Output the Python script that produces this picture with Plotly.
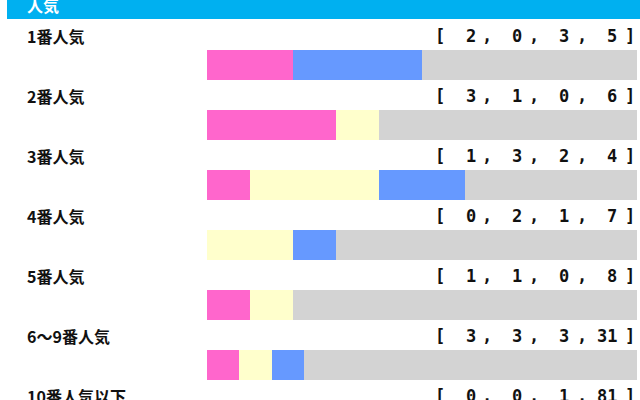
import plotly.graph_objects as go

# popularity groups and finishing counts [1st, 2nd, 3rd, other]
labels = ["1番人気", "2番人気", "3番人気", "4番人気", "5番人気", "6〜9番人気", "10番人気以下"]
first = [2, 3, 1, 0, 1, 3, 0]
second = [0, 1, 3, 2, 1, 3, 0]
third = [3, 0, 2, 1, 0, 3, 1]
other = [5, 6, 4, 7, 8, 31, 81]

header = "人気"
series_names = ["1着", "2着", "3着", "着外"]
colors = ["#ff66cc", "#ffffcc", "#6699ff", "#d3d3d3"]

W, H = 640, 400
ROW_H = 60
BAR_C = 65      # pixel centre of first bar
LABEL_DY = -29  # label line sits above the bar


def px_x(p):
    return p / W


def px_y(p):
    return 1 - p / H


rows = list(range(len(labels)))
fig = go.Figure()
for name, vals, col in zip(series_names, [first, second, third, other], colors):
    fig.add_trace(
        go.Bar(
            y=rows,
            x=vals,
            name=name,
            orientation="h",
            width=0.5,
            marker=dict(color=col, line=dict(width=0)),
            hoverinfo="skip",
        )
    )

font_lbl = dict(family="Noto Sans CJK JP", size=16, color="#111111")
font_num = dict(family="DejaVu Sans Mono, monospace", size=17, color="#111111")

annotations = []
num_right = [478, 524, 571, 619]
comma_x = [487, 534, 582]
for i, lab in enumerate(labels):
    yy = i + LABEL_DY / ROW_H
    annotations.append(dict(x=px_x(25), y=yy, xref="paper", yref="y", text=f"<b>{lab}</b>",
                            xanchor="left", yanchor="middle", showarrow=False, font=font_lbl))
    vals = [first[i], second[i], third[i], other[i]]
    annotations.append(dict(x=px_x(440), y=yy, xref="paper", yref="y", text="<b>[</b>",
                            xanchor="center", yanchor="middle", showarrow=False, font=font_num))
    annotations.append(dict(x=px_x(630), y=yy, xref="paper", yref="y", text="<b>]</b>",
                            xanchor="center", yanchor="middle", showarrow=False, font=font_num))
    for v, xr in zip(vals, num_right):
        annotations.append(dict(x=px_x(xr), y=yy, xref="paper", yref="y", text=f"<b>{v}</b>",
                                xanchor="right", yanchor="middle", showarrow=False, font=font_num))
    for xc in comma_x:
        annotations.append(dict(x=px_x(xc), y=yy, xref="paper", yref="y", text="<b>,</b>",
                                xanchor="center", yanchor="middle", showarrow=False, font=font_num))

annotations.append(dict(x=px_x(25), y=px_y(5), xref="paper", yref="paper", text=f"<b>{header}</b>",
                        xanchor="left", yanchor="middle", showarrow=False,
                        font=dict(family="Noto Sans CJK JP", size=16, color="white")))

fig.update_layout(
    width=W,
    height=H,
    margin=dict(l=0, r=0, t=0, b=0),
    paper_bgcolor="white",
    plot_bgcolor="white",
    barmode="stack",
    barnorm="fraction",
    showlegend=False,
    annotations=annotations,
    shapes=[dict(type="rect", xref="paper", yref="paper", x0=px_x(7), x1=1, y0=px_y(19), y1=1.02,
                 fillcolor="#00b0f0", line=dict(width=0), layer="below")],
)
fig.update_xaxes(range=[0, 1], domain=[px_x(207), px_x(637)], visible=False, fixedrange=True)
fig.update_yaxes(range=[(H - BAR_C) / ROW_H, -BAR_C / ROW_H], visible=False, fixedrange=True)

fig.write_html(
    "out.html",
    config={"displayModeBar": False},
    post_script="document.body.style.margin='0';document.body.style.overflow='hidden';",
)
